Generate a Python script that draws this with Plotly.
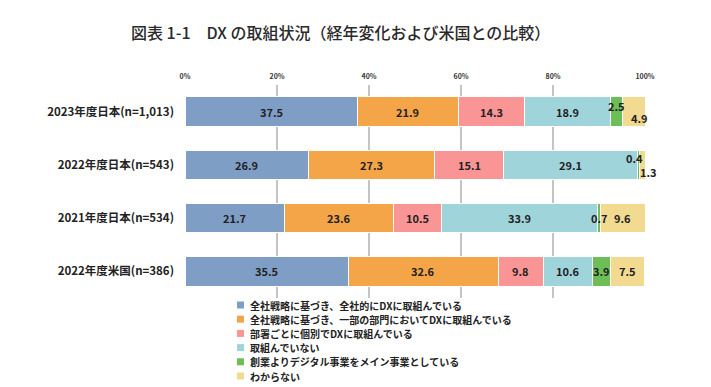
import plotly.graph_objects as go

categories = ["2023年度日本(n=1,013)", "2022年度日本(n=543)", "2021年度日本(n=534)", "2022年度米国(n=386)"]
series_names = [
    "全社戦略に基づき、全社的にDXに取組んでいる",
    "全社戦略に基づき、一部の部門においてDXに取組んでいる",
    "部署ごとに個別でDXに取組んでいる",
    "取組んでいない",
    "創業よりデジタル事業をメイン事業としている",
    "わからない",
]
values = [
    [37.5, 26.9, 21.7, 35.5],
    [21.9, 27.3, 23.6, 32.6],
    [14.3, 15.1, 10.5, 9.8],
    [18.9, 29.1, 33.9, 10.6],
    [2.5, 0.4, 0.7, 3.9],
    [4.9, 1.3, 9.6, 7.5],
]
tick_vals = [0, 20, 40, 60, 80, 100]
tick_text = ["0%", "20%", "40%", "60%", "80%", "100%"]
title_text = "図表 1-1　DX の取組状況（経年変化および米国との比較）"

colors = ["#7f9ec6", "#f4a547", "#fa9595", "#9fd4da", "#6dbe57", "#f2da90"]

W, H = 711, 387
ML, MR, MT, MB = 185, 66, 85, 89
PW, PH = W - ML - MR, H - MT - MB


def px_x(x):
    return (x - ML) / PW


def px_y(y):
    return (H - MB - y) / PH


# label offsets (px) for small segments: (series index, category index) -> (xshift, yshift)
label_shift = {
    (4, 0): (0, 6),
    (5, 0): (6, -6),
    (4, 1): (-4, 7),
    (5, 1): (6, -7),
}

font_jp = "Noto Sans CJK JP"

fig = go.Figure()
for name, vals, col in zip(series_names, values, colors):
    fig.add_trace(go.Bar(
        name=name, y=categories, x=vals, orientation="h",
        marker=dict(color=col, line=dict(color="white", width=1)),
        width=0.55, hoverinfo="x+name", showlegend=False,
    ))

annotations = []
shapes = []
cum = [0.0] * len(categories)
for si, vals in enumerate(values):
    for ci, v in enumerate(vals):
        center = cum[ci] + v / 2
        xs, ys = label_shift.get((si, ci), (0, 0))
        annotations.append(dict(
            x=center, y=categories[ci], xref="x", yref="y",
            text=f"{v:.1f}", showarrow=False, xshift=xs, yshift=ys,
            font=dict(family=font_jp, size=11, color="#222222", weight="bold"),
        ))
        cum[ci] += v

# title
annotations.append(dict(
    x=px_x(340), y=px_y(32), xref="paper", yref="paper", xanchor="center", yanchor="middle",
    text=title_text, showarrow=False,
    font=dict(family=font_jp, size=16, color="#2a2a2a", weight=500),
))

# custom legend (compact rows)
for i, (name, col) in enumerate(zip(series_names, colors)):
    yc = 305 + 14.2 * i
    shapes.append(dict(
        type="rect", xref="paper", yref="paper",
        x0=px_x(237), x1=px_x(244), y0=px_y(yc + 3.5), y1=px_y(yc - 3.5),
        fillcolor=col, line=dict(width=0),
    ))
    annotations.append(dict(
        x=px_x(248), y=px_y(yc), xref="paper", yref="paper", xanchor="left", yanchor="middle",
        text=name, showarrow=False,
        font=dict(family=font_jp, size=10, color="#222222", weight="bold"),
    ))

fig.update_layout(
    width=W, height=H,
    margin=dict(l=ML, r=MR, t=MT, b=MB),
    barmode="stack",
    plot_bgcolor="white", paper_bgcolor="white",
    font=dict(family=font_jp, color="#222222"),
    showlegend=False,
    xaxis=dict(
        side="top", range=[0, 100], tickvals=tick_vals, ticktext=tick_text,
        showgrid=True, gridcolor="#c4c4c4", gridwidth=2, zeroline=False,
        tickfont=dict(family=font_jp, size=7, color="#333333", weight="bold"),
        ticks="", fixedrange=True, automargin=False, ticklabelstandoff=4,
    ),
    yaxis=dict(
        autorange="reversed", showgrid=False, zeroline=False,
        tickfont=dict(family=font_jp, size=11.5, color="#222222", weight="bold"),
        ticks="", ticklabelstandoff=10, automargin=False,
    ),
    annotations=annotations,
    shapes=shapes,
)
fig.write_html(
    "out.html",
    config={"displayModeBar": False},
    post_script="document.body.style.margin='0';document.body.style.padding='0';",
)
